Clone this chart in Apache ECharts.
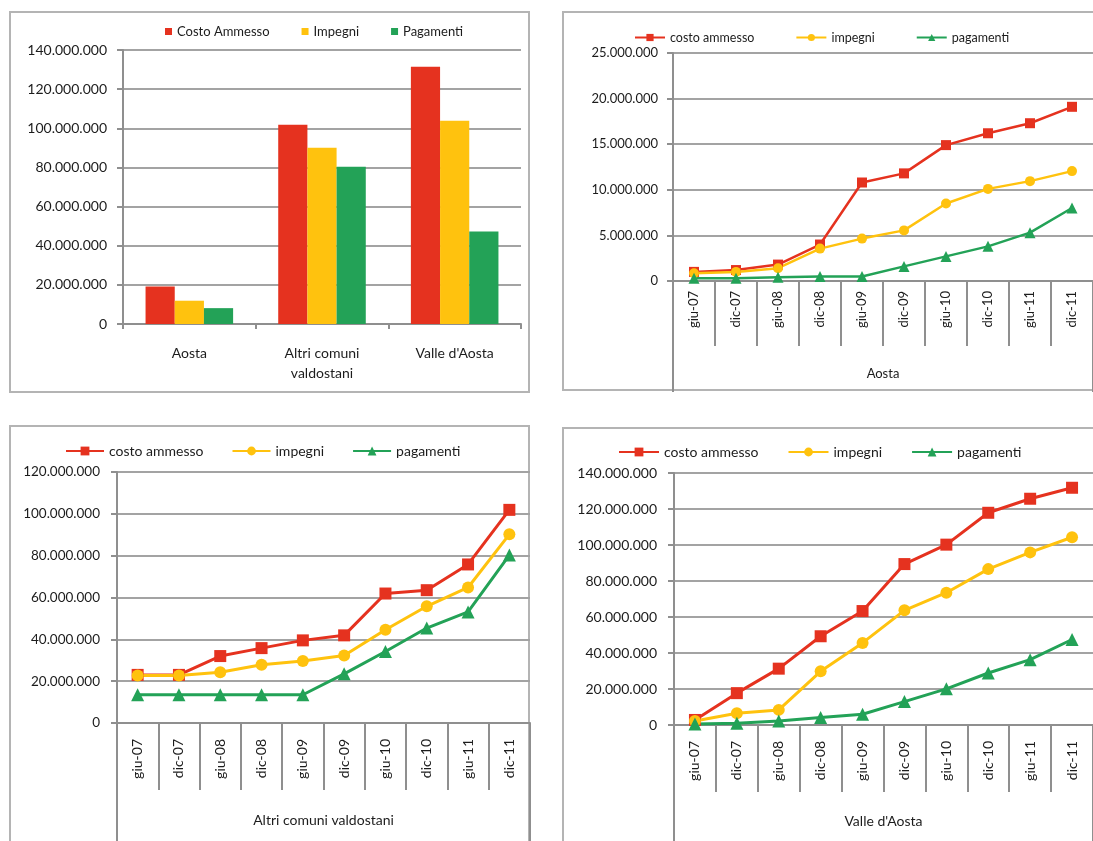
<!DOCTYPE html>
<html>
<head>
<meta charset="utf-8">
<script src="https://cdn.jsdelivr.net/npm/echarts@6/dist/echarts.min.js"></script>
<style>
  html, body { margin: 0; padding: 0; background: #ffffff; }
  body { width: 1093px; height: 841px; overflow: hidden; position: relative; }
  .frame { position: absolute; box-sizing: border-box; border: 2px solid #b4b4b4; }
  .layer { position: absolute; left: 0; top: 0; width: 1093px; height: 841px; }
</style>
</head>
<body>
<div class="frame" style="left:9px;top:11px;width:521px;height:382px;"></div>
<div class="frame" style="left:562px;top:11px;width:600px;height:380px;"></div>
<div class="frame" style="left:9px;top:425px;width:521px;height:460px;"></div>
<div class="frame" style="left:562px;top:427px;width:600px;height:460px;"></div>
<div id="c1" class="layer"></div>
<div id="c2" class="layer"></div>
<div id="c3" class="layer"></div>
<div id="c4" class="layer"></div>
<script>
// Territories shown in the summary bar chart
const areas = ['Aosta', 'Altri comuni\nvaldostani', "Valle d'Aosta"];
// Totals at dic-11 (euro)
const barCosto = [19200000, 101800000, 131500000];
const barImpegni = [11900000, 90000000, 103900000];
const barPagamenti = [8100000, 80300000, 47200000];

// Half-year checkpoints
const periods = ['giu-07', 'dic-07', 'giu-08', 'dic-08', 'giu-09', 'dic-09', 'giu-10', 'dic-10', 'giu-11', 'dic-11'];

// Aosta
const aostaCosto = [1000000, 1200000, 1800000, 4000000, 10800000, 11800000, 14900000, 16200000, 17300000, 19100000];
const aostaImpegni = [850000, 1000000, 1400000, 3550000, 4650000, 5550000, 8500000, 10100000, 10950000, 12050000];
const aostaPagamenti = [300000, 300000, 400000, 500000, 500000, 1600000, 2700000, 3800000, 5300000, 8000000];

// Altri comuni valdostani
const altriCosto = [23000000, 23000000, 32000000, 35800000, 39500000, 41900000, 61900000, 63500000, 75800000, 101900000];
const altriImpegni = [22700000, 22700000, 24300000, 27800000, 29600000, 32300000, 44600000, 55800000, 64800000, 90200000];
const altriPagamenti = [13500000, 13500000, 13500000, 13500000, 13500000, 23500000, 34200000, 45400000, 53100000, 80300000];

// Valle d'Aosta
const valleCosto = [2800000, 17700000, 31300000, 49300000, 63300000, 89400000, 100200000, 117900000, 125700000, 131800000];
const valleImpegni = [2200000, 6500000, 8400000, 29800000, 45600000, 63700000, 73500000, 86600000, 95900000, 104300000];
const vallePagamenti = [500000, 1000000, 2200000, 4100000, 6000000, 13000000, 20100000, 28900000, 36300000, 47500000];

const FONT = 'Lato';
const TEXT = '#1c1c1c';
const AXIS = '#8f8f8f';
const GRID = '#a3a3a3';
const RED = '#e5321f';
const YELLOW = '#ffc20e';
const GREEN = '#23a257';

function dots(v) {
  return String(v).replace(/\B(?=(\d{3})+(?!\d))/g, '.');
}

function valueAxis(max, step, size, margin) {
  return {
    type: 'value', min: 0, max: max, interval: step,
    axisLine: { show: true, lineStyle: { color: AXIS, width: 2 } },
    axisTick: { show: true, length: 6, lineStyle: { color: AXIS, width: 2 } },
    splitLine: { show: true, lineStyle: { color: GRID, width: 2 } },
    axisLabel: { fontFamily: FONT, fontSize: size, color: TEXT, margin: margin, formatter: dots }
  };
}

// Bar chart: totals by territory
const chart1 = echarts.init(document.getElementById('c1'), null, { renderer: 'canvas' });
chart1.setOption({
  animation: false,
  legend: {
    left: 160, top: 20, itemWidth: 7, itemHeight: 7, itemGap: 32, icon: 'rect',
    textStyle: { fontFamily: FONT, fontSize: 13, color: TEXT },
    data: ['Costo Ammesso', 'Impegni', 'Pagamenti']
  },
  grid: { left: 123, top: 50, right: 1093 - 521, bottom: 841 - 324 },
  xAxis: {
    type: 'category', data: areas,
    axisLine: { lineStyle: { color: AXIS, width: 2 } },
    axisTick: { show: true, length: 5, lineStyle: { color: AXIS, width: 2 } },
    axisLabel: { fontFamily: FONT, fontSize: 14, color: TEXT, margin: 19, lineHeight: 20 }
  },
  yAxis: valueAxis(140000000, 20000000, 14, 16),
  series: [
    { name: 'Costo Ammesso', type: 'bar', data: barCosto, itemStyle: { color: RED }, barGap: '0%', barCategoryGap: '34%' },
    { name: 'Impegni', type: 'bar', data: barImpegni, itemStyle: { color: YELLOW } },
    { name: 'Pagamenti', type: 'bar', data: barPagamenti, itemStyle: { color: GREEN } }
  ]
});

// Line charts: progress over time, one per territory
function lineOption(cfg) {
  const sym = cfg.symbol;
  return {
    animation: false,
    legend: {
      left: cfg.legendLeft, top: cfg.legendTop, itemWidth: cfg.iconW, itemHeight: cfg.iconH, itemGap: cfg.legendGap,
      textStyle: { fontFamily: FONT, fontSize: cfg.legendFont, color: TEXT },
      data: ['costo ammesso', 'impegni', 'pagamenti']
    },
    grid: { left: cfg.left, top: cfg.top, right: cfg.right, bottom: cfg.bottom },
    xAxis: [
      {
        type: 'category', data: periods, position: 'bottom',
        axisLine: { lineStyle: { color: AXIS, width: 2 } },
        axisTick: { show: true, length: cfg.tickLen, lineStyle: { color: AXIS, width: 2 } },
        axisLabel: { fontFamily: FONT, fontSize: cfg.catFont, color: TEXT, rotate: 90, margin: cfg.catMargin }
      },
      {
        type: 'category', data: [cfg.title], position: 'bottom',
        axisLine: { show: false },
        axisTick: { show: true, length: cfg.outerLen, lineStyle: { color: AXIS, width: 2 } },
        axisLabel: { fontFamily: FONT, fontSize: cfg.titleFont, color: TEXT, margin: cfg.titleMargin }
      }
    ],
    yAxis: valueAxis(cfg.max, cfg.step, cfg.valFont, cfg.valMargin),
    series: [
      { name: 'costo ammesso', type: 'line', data: cfg.costo, symbol: 'rect', symbolSize: sym,
        lineStyle: { color: RED, width: cfg.lw }, itemStyle: { color: RED } },
      { name: 'impegni', type: 'line', data: cfg.impegni, symbol: 'circle', symbolSize: sym,
        lineStyle: { color: YELLOW, width: cfg.lw }, itemStyle: { color: YELLOW } },
      { name: 'pagamenti', type: 'line', data: cfg.pagamenti, symbol: 'triangle', symbolSize: sym + 1,
        lineStyle: { color: GREEN, width: cfg.lw }, itemStyle: { color: GREEN } }
    ]
  };
}

const chart2 = echarts.init(document.getElementById('c2'));
chart2.setOption(lineOption({
  title: 'Aosta', costo: aostaCosto, impegni: aostaImpegni, pagamenti: aostaPagamenti,
  max: 25000000, step: 5000000,
  left: 673, top: 53, right: 1093 - 1100, bottom: 841 - 281,
  tickLen: 65, outerLen: 111, catMargin: 10, titleMargin: 86,
  catFont: 13, titleFont: 13, valFont: 13, valMargin: 15,
  legendLeft: 629, legendTop: 26, iconW: 30, iconH: 9, legendGap: 41, legendFont: 12.5,
  symbol: 10, lw: 2.5
}));

const chart3 = echarts.init(document.getElementById('c3'));
chart3.setOption(lineOption({
  title: 'Altri comuni valdostani', costo: altriCosto, impegni: altriImpegni, pagamenti: altriPagamenti,
  max: 120000000, step: 20000000,
  left: 117, top: 472, right: 1093 - 530, bottom: 841 - 723,
  tickLen: 67, outerLen: 140, catMargin: 16, titleMargin: 90,
  catFont: 14, titleFont: 14, valFont: 13.5, valMargin: 17,
  legendLeft: 60, legendTop: 439, iconW: 38, iconH: 11, legendGap: 28, legendFont: 14,
  symbol: 12, lw: 3
}));

const chart4 = echarts.init(document.getElementById('c4'));
chart4.setOption(lineOption({
  title: "Valle d'Aosta", costo: valleCosto, impegni: valleImpegni, pagamenti: vallePagamenti,
  max: 140000000, step: 20000000,
  left: 674, top: 473, right: 1093 - 1101, bottom: 841 - 725,
  tickLen: 67, outerLen: 140, catMargin: 16, titleMargin: 89,
  catFont: 14, titleFont: 14, valFont: 14, valMargin: 17,
  legendLeft: 613, legendTop: 440, iconW: 40, iconH: 11, legendGap: 29, legendFont: 14,
  symbol: 12, lw: 3
}));
</script>
</body>
</html>
